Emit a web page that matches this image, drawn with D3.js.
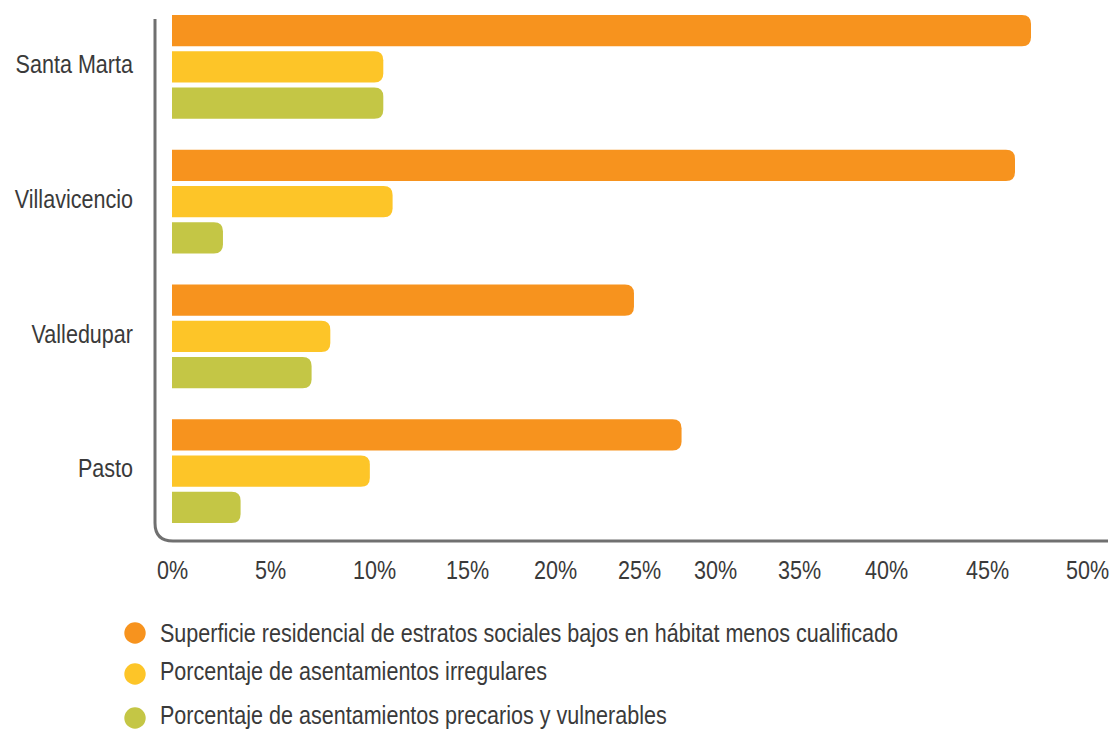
<!DOCTYPE html>
<html>
<head>
<meta charset="utf-8">
<script src="https://cdn.jsdelivr.net/npm/d3@7"></script>
<style>
  html, body { margin: 0; padding: 0; background: #ffffff; }
  svg { display: block; }
  text { font-family: "Liberation Sans", Arial, sans-serif; fill: #3a3a3a; }
</style>
</head>
<body>
<svg id="chart" width="1113" height="729"></svg>
<script>
// City names, top to bottom
const cities = ["Santa Marta", "Villavicencio", "Valledupar", "Pasto"];

// Series (share of urban area, %)
const seriesKeys = ["bajos", "irregulares", "precarios"];
const seriesNames = [
  "Superficie residencial de estratos sociales bajos en hábitat menos cualificado",
  "Porcentaje de asentamientos irregulares",
  "Porcentaje de asentamientos precarios y vulnerables"
];
const seriesColors = ["#f7931e", "#fdc528", "#c4c645"];

const bajos       = [47.2, 46.4, 24.7, 27.8];
const irregulares = [10.5, 11.0,  7.9,  9.8];
const precarios   = [10.5,  2.6,  7.0,  3.5];

// Axis tick values
const tickValues = [0, 5, 10, 15, 20, 25, 30, 35, 40, 45, 50];

// ---- layout ----
const W = 1113, H = 729;
const plotLeft = 172;
// pixel offset of each tick stop from plotLeft (the axis is graduated unevenly)
const tickStops = [0, 98, 202, 295, 383, 467, 543, 627, 714, 815, 915];
const groupTop = 15, groupBottom = 523;
const fontSize = 26.3;
const narrow = 0.82;   // horizontal squeeze giving a condensed face

const svg = d3.select("#chart");

const x = d3.scaleLinear()
  .domain(tickValues)
  .range(tickStops.map(d => plotLeft + d));

const y = d3.scaleBand()
  .domain(cities)
  .range([groupTop, groupBottom])
  .paddingInner(0.23)
  .paddingOuter(0);

const yInner = d3.scaleBand()
  .domain(seriesKeys)
  .range([0, y.bandwidth()])
  .paddingInner(0.135)
  .paddingOuter(0);

const color = d3.scaleOrdinal().domain(seriesKeys).range(seriesColors);

const rows = cities.map((c, i) => ({
  city: c,
  values: [
    { key: "bajos", value: bajos[i] },
    { key: "irregulares", value: irregulares[i] },
    { key: "precarios", value: precarios[i] }
  ]
}));

// bar with square left end and rounded right end
function barPath(x0, y0, w, h, r) {
  r = Math.min(r, w / 2, h / 2);
  return `M${x0},${y0}H${x0 + w - r}` +
    `Q${x0 + w},${y0} ${x0 + w},${y0 + r}` +
    `V${y0 + h - r}` +
    `Q${x0 + w},${y0 + h} ${x0 + w - r},${y0 + h}` +
    `H${x0}Z`;
}

// bars
const groups = svg.append("g").selectAll("g")
  .data(rows)
  .join("g")
  .attr("transform", d => `translate(0,${y(d.city)})`);

groups.selectAll("path")
  .data(d => d.values)
  .join("path")
  .attr("d", d => barPath(x(0), yInner(d.key), x(d.value) - x(0), yInner.bandwidth(), 9))
  .attr("fill", d => color(d.key));

// frame: vertical axis line turning into the baseline with a rounded corner
const frameX = 155, frameTop = 19, frameY = 541, frameRight = 1108, cr = 18;
svg.append("path")
  .attr("d", `M${frameX},${frameTop}V${frameY - cr}Q${frameX},${frameY} ${frameX + cr},${frameY}H${frameRight}`)
  .attr("fill", "none")
  .attr("stroke", "#707070")
  .attr("stroke-width", 3);

// category labels
svg.append("g").selectAll("g")
  .data(cities)
  .join("g")
  .attr("transform", d => `translate(133,${y(d) + y.bandwidth() / 2 - 3}) scale(${narrow},1)`)
  .append("text")
  .attr("text-anchor", "end")
  .attr("dominant-baseline", "central")
  .attr("font-size", fontSize)
  .text(d => d);

// x axis labels
const xAxis = d3.axisBottom(x)
  .tickValues(tickValues)
  .tickFormat(d => d + "%")
  .tickSize(0)
  .tickPadding(0);

const gx = svg.append("g")
  .attr("transform", `translate(0,579)`)
  .call(xAxis);
gx.select(".domain").remove();
gx.attr("font-family", null).attr("font-size", null);
gx.selectAll("text")
  .attr("dy", null)
  .attr("y", 0)
  .attr("font-size", fontSize)
  .attr("transform", `scale(${narrow},1)`)
  .style("fill", "#3a3a3a");

// legend
const legendY = d3.scalePoint().domain(seriesKeys).range([633, 718]);
const textShift = [0, -3.5, -3];
const legend = svg.append("g").selectAll("g")
  .data(seriesKeys)
  .join("g")
  .attr("transform", (d, i) => `translate(0,${legendY(d) + (i === 1 ? -1.5 : 0)})`);

legend.append("circle")
  .attr("cx", 135)
  .attr("cy", 0)
  .attr("r", 10.7)
  .attr("fill", d => color(d));

legend.append("g")
  .attr("transform", (d, i) => `translate(160,${textShift[i]}) scale(${narrow},1)`)
  .append("text")
  .attr("dominant-baseline", "central")
  .attr("font-size", fontSize)
  .text((d, i) => seriesNames[i]);
</script>
</body>
</html>
